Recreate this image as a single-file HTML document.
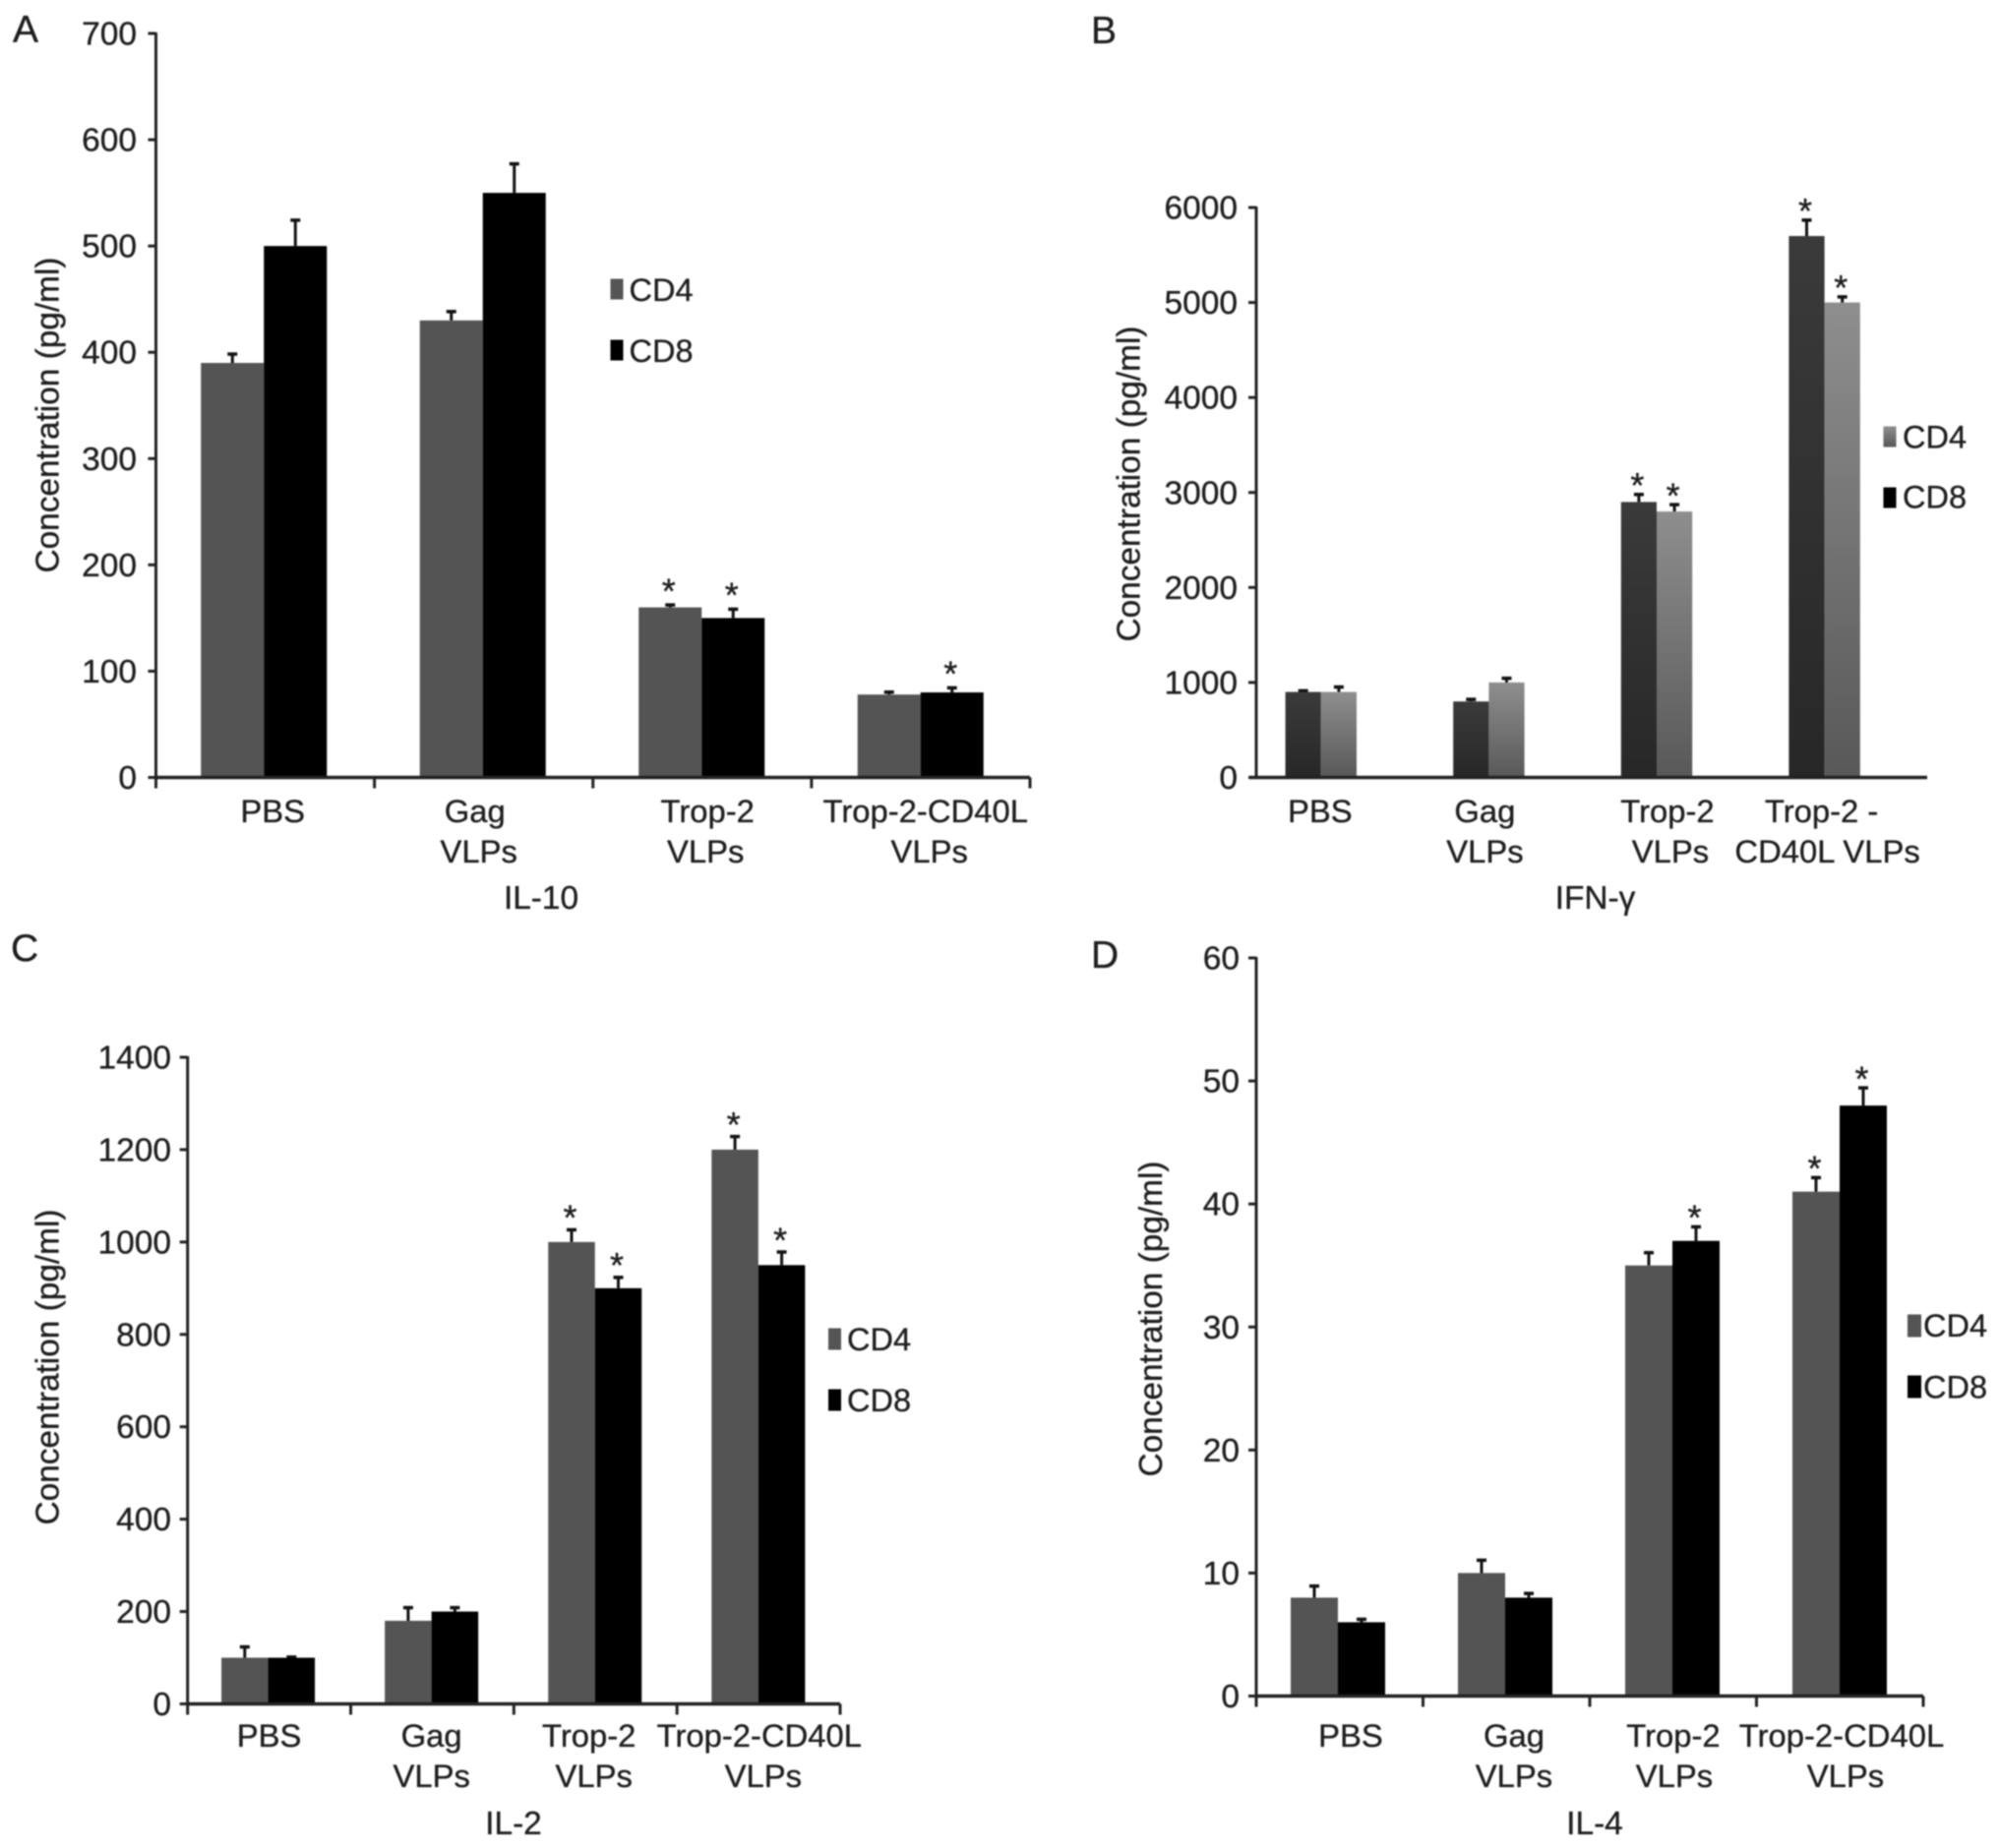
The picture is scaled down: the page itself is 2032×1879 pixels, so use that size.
<!DOCTYPE html>
<html lang="en">
<head>
<meta charset="utf-8">
<title>Cytokine concentrations by VLP treatment</title>
<style>
html,body{margin:0;padding:0;background:#fff;width:2032px;height:1879px;overflow:hidden}
svg{display:block;filter:blur(0.7px)}
text{font-family:"Liberation Sans",sans-serif;fill:#1e1e1e;stroke:#1e1e1e;stroke-width:0.35px}
.lbl{font-size:32.5px}
.tick{font-size:33.5px;text-anchor:end}
.cat{font-size:32.8px;text-anchor:middle}
.title{font-size:33.4px;text-anchor:middle}
.letter{font-size:39px}
</style>
</head>
<body>
<svg id="figure" xmlns="http://www.w3.org/2000/svg" width="2032" height="1879" viewBox="0 0 2032 1879">
  <defs>
    <linearGradient id="bDark" x1="0" y1="0" x2="0" y2="1"><stop offset="0" stop-color="#3a3a3a"/><stop offset="1" stop-color="#272727"/></linearGradient>
    <linearGradient id="bLight" x1="0" y1="0" x2="0" y2="1"><stop offset="0" stop-color="#8e8e8e"/><stop offset="1" stop-color="#585858"/></linearGradient>
  </defs>
  <rect width="2032" height="1879" fill="#fff"/>

  <g id="panel-a">
    <text class="letter" x="13" y="43">A</text>
    <text class="title" transform="translate(59.500,422) rotate(-90)">Concentration (pg/ml)</text>
    <text class="title" x="550" y="924">IL-10</text>
    <rect x="620.500" y="283.500" width="13" height="21" fill="#555"/>
    <text class="lbl" x="639.500" y="306">CD4</text>
    <rect x="620.500" y="345.500" width="13" height="21" fill="#000"/>
    <text class="lbl" x="639.500" y="368">CD8</text>
  </g>

  <g id="panel-b">
    <text class="letter" x="1109" y="44">B</text>
    <text class="title" transform="translate(1158.500,492) rotate(-90)">Concentration (pg/ml)</text>
    <text class="title" x="1621.500" y="924">IFN-γ</text>
    <rect x="1914.500" y="433.500" width="13" height="21" fill="url(#bLight)"/>
    <text class="lbl" x="1934" y="455.500">CD4</text>
    <rect x="1914.500" y="495.500" width="13" height="21" fill="#000"/>
    <text class="lbl" x="1934" y="516.500">CD8</text>
  </g>

  <g id="panel-c">
    <text class="letter" x="11" y="977">C</text>
    <text class="title" transform="translate(59.500,1390) rotate(-90)">Concentration (pg/ml)</text>
    <text class="title" x="522" y="1865">IL-2</text>
    <rect x="842" y="1350.500" width="13" height="22" fill="#555"/>
    <text class="lbl" x="861" y="1373">CD4</text>
    <rect x="842" y="1412.500" width="13" height="22" fill="#000"/>
    <text class="lbl" x="861" y="1435">CD8</text>
  </g>

  <g id="panel-d">
    <text class="letter" x="1109" y="984">D</text>
    <text class="title" transform="translate(1181,1341) rotate(-90)">Concentration (pg/ml)</text>
    <text class="title" x="1621" y="1865">IL-4</text>
    <rect x="1939" y="1336.500" width="14" height="23" fill="#555"/>
    <text class="lbl" x="1955" y="1359">CD4</text>
    <rect x="1939" y="1398.500" width="14" height="23" fill="#000"/>
    <text class="lbl" x="1955" y="1421.500">CD8</text>
  </g>
</svg>

<script>
// ---- data ----
const categoriesA = [["PBS"], ["Gag", "VLPs"], ["Trop-2", "VLPs"], ["Trop-2-CD40L", "VLPs"]];
const categoriesB = [["PBS"], ["Gag", "VLPs"], ["Trop-2", "VLPs"], ["Trop-2 -", "CD40L VLPs"]];
const categoriesC = [["PBS"], ["Gag", "VLPs"], ["Trop-2", "VLPs"], ["Trop-2-CD40L", "VLPs"]];
const categoriesD = [["PBS"], ["Gag", "VLPs"], ["Trop-2", "VLPs"], ["Trop-2-CD40L", "VLPs"]];

const ticksA = ["0", "100", "200", "300", "400", "500", "600", "700"];
const ticksB = ["0", "1000", "2000", "3000", "4000", "5000", "6000"];
const ticksC = ["0", "200", "400", "600", "800", "1000", "1200", "1400"];
const ticksD = ["0", "10", "20", "30", "40", "50", "60"];

const il10Cd4 = [390, 430, 160, 78];
const il10Cd8 = [500, 550, 150, 80];
const il10Cd4Err = [9, 9, 3, 3];
const il10Cd8Err = [25, 28, 9, 5];
const il10Cd4Star = [false, false, true, false];
const il10Cd8Star = [false, false, true, true];

const ifnCd4 = [900, 800, 2900, 5700];
const ifnCd8 = [900, 1000, 2800, 5000];
const ifnCd4Err = [20, 30, 87, 175];
const ifnCd8Err = [60, 52, 80, 67];
const ifnCd4Star = [false, false, true, true];
const ifnCd8Star = [false, false, true, true];

const il2Cd4 = [100, 180, 1000, 1200];
const il2Cd8 = [100, 200, 900, 950];
const il2Cd4Err = [25, 30, 28, 30];
const il2Cd8Err = [3, 10, 25, 30];
const il2Cd4Star = [false, false, true, true];
const il2Cd8Star = [false, false, true, true];

const il4Cd4 = [8, 10, 35, 41];
const il4Cd8 = [6, 8, 37, 48];
const il4Cd4Err = [1, 1.1, 1.1, 1.2];
const il4Cd8Err = [0.3, 0.4, 1.2, 1.5];
const il4Cd4Star = [false, false, false, true];
const il4Cd8Star = [false, false, true, true];

// ---- layout ----
const NS = "http://www.w3.org/2000/svg";
const panels = [
  { id: "a", cats: categoriesA, ticks: ticksA, cd4: il10Cd4, cd8: il10Cd8, cd4Err: il10Cd4Err, cd8Err: il10Cd8Err, cd4Star: il10Cd4Star, cd8Star: il10Cd8Star,
    layout: { axisX: 158.5, axisStart: 158.5, axisEnd: 1047, y0: 790.5, yTop: 34, yMax: 700, bandStart: 157, band: 222.5, barW: 64, xTicks: true, tickRight: 139, starGap: 21, line1: 824.5, line2: 865.5, labelDx: [[9], [-8, -4], [6, 4], [5, 9]], fill4: "#545454", fill8: "#000" } },
  { id: "b", cats: categoriesB, ticks: ticksB, cd4: ifnCd4, cd8: ifnCd8, cd4Err: ifnCd4Err, cd8Err: ifnCd8Err, cd4Star: ifnCd4Star, cd8Star: ifnCd8Star,
    layout: { axisX: 1277, axisStart: 1270, axisEnd: 1959, y0: 790.5, yTop: 211, yMax: 6000, bandStart: 1257.5, band: 170.6, barW: 36.2, xTicks: false, tickRight: 1258, starGap: 16, line1: 824.5, line2: 865.5, labelDx: [[-1], [-4, -4], [11, 14], [-3, 3]], fill4: "url(#bDark)", fill8: "url(#bLight)" } },
  { id: "c", cats: categoriesC, ticks: ticksC, cd4: il2Cd4, cd8: il2Cd8, cd4Err: il2Cd4Err, cd8Err: il2Cd8Err, cd4Star: il2Cd4Star, cd8Star: il2Cd8Star,
    layout: { axisX: 190.7, axisStart: 190.7, axisEnd: 854, y0: 1732.5, yTop: 1075, yMax: 1400, bandStart: 189.5, band: 166.1, barW: 47.5, xTicks: true, tickRight: 174, starGap: 19, line1: 1764.5, line2: 1805.5, labelDx: [[1], [0, 0], [-6, -1], [1, 5]], fill4: "#545454", fill8: "#000" } },
  { id: "d", cats: categoriesD, ticks: ticksD, cd4: il4Cd4, cd8: il4Cd8, cd4Err: il4Cd4Err, cd8Err: il4Cd8Err, cd4Star: il4Cd4Star, cd8Star: il4Cd8Star,
    layout: { axisX: 1277, axisStart: 1277, axisEnd: 1955, y0: 1724.5, yTop: 974, yMax: 60, bandStart: 1275, band: 170, barW: 48, xTicks: true, tickRight: 1260, starGap: 16, line1: 1764.5, line2: 1805.5, labelDx: [[13], [9, 9], [1, 2], [2, 6]], fill4: "#545454", fill8: "#000" } }
];

function shape(parent, tag, attrs, content) {
  const el = document.createElementNS(NS, tag);
  Object.keys(attrs).forEach(function (k) { el.setAttribute(k, attrs[k]); });
  if (content !== undefined) el.textContent = content;
  parent.appendChild(el);
  return el;
}

panels.forEach(function (p) {
  const g = document.getElementById("panel-" + p.id);
  const L = p.layout;
  const yScale = function (v) { return L.y0 - (v / L.yMax) * (L.y0 - L.yTop); };
  const xCenter = function (i) { return L.bandStart + L.band * (i + 0.5); };

  function series(values, errs, stars, xOffset, fill, label) {
    values.forEach(function (v, i) {
      const x = xCenter(i) + xOffset;
      const top = yScale(v);
      const errTop = yScale(v + errs[i]);
      const mid = x + L.barW / 2;

      const stem = shape(g, "rect", { x: mid - 1.5, y: errTop, width: 3, height: top - errTop, fill: "#111" });
      
      

      const cap = shape(g, "rect", { x: mid - 5, y: errTop - 1, width: 10, height: 3.5, fill: "#111" });
      
      

      const bar = shape(g, "rect", { x: x, y: top, width: L.barW, height: L.y0 - top, fill: fill });
      
      

      if (stars[i]) {
        const star = shape(g, "text", { x: mid - 1.5, y: errTop - L.starGap + 20, "text-anchor": "middle", "font-size": 36 }, "*");
        
        
      }
    });
  }
  series(p.cd4, p.cd4Err, p.cd4Star, -L.barW, L.fill4, "cd4");
  series(p.cd8, p.cd8Err, p.cd8Star, 0, L.fill8, "cd8");

  const yAxis = shape(g, "line", { x1: L.axisX, x2: L.axisX, y1: L.yTop - 1, y2: L.y0 + 1, stroke: "#222", "stroke-width": 3 });
  
  

  const xAxis = shape(g, "line", { x1: L.axisStart, x2: L.axisEnd, y1: L.y0, y2: L.y0, stroke: "#222", "stroke-width": 3.5 });
  
  

  p.ticks.forEach(function (t) {
    const y = yScale(Number(t));
    const mark = shape(g, "line", { x1: L.axisX - 8, x2: L.axisX, y1: y, y2: y, stroke: "#222", "stroke-width": 3 });
    
    

    const txt = shape(g, "text", { class: "tick", x: L.tickRight, y: y + 11.5 }, t);
    
    
  });

  if (L.xTicks) {
    for (let i = 0; i <= p.cats.length; i++) {
      const x = L.axisX + (L.axisEnd - L.axisX) * i / p.cats.length;
      const mark = shape(g, "line", { x1: x, x2: x, y1: L.y0, y2: L.y0 + 11, stroke: "#222", "stroke-width": 3 });
      
      
    }
  }

  p.cats.forEach(function (lines, i) {
    lines.forEach(function (line, j) {
      const txt = shape(g, "text", { class: "cat", x: xCenter(i) + L.labelDx[i][j], y: (j === 0 ? L.line1 : L.line2) + 11.5 }, line);
      
      
    });
  });
});
</script>
</body>
</html>
